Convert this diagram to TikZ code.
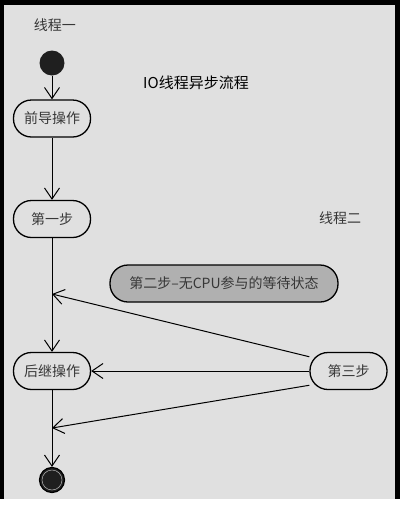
\documentclass[tikz,border=0pt]{standalone}
\usepackage{fontspec}
\newfontfamily\cjk{Noto Sans CJK SC}
\usetikzlibrary{arrows.meta}
\definecolor{hintergrund}{RGB}{224,224,224}
\definecolor{wartegrau}{RGB}{176,176,176}
\definecolor{schrift}{RGB}{55,55,55}
\begin{document}
\begin{tikzpicture}[x=1pt, y=-1pt,
        aktion/.style={draw, line width=1.3pt, rounded corners=18pt,
            minimum width=77pt, minimum height=37pt, inner sep=0pt,
            fill=hintergrund, text=schrift, font=\cjk\fontsize{14}{14}\selectfont},
        beschriftung/.style={text=schrift, font=\cjk\fontsize{14}{14}\selectfont},
        pfeil/.style={line width=1pt,
            -{Straight Barb[length=11pt, width=15pt, line width=1pt]}}]
        \useasboundingbox (0,0) rectangle (405,507);
        % Rahmen
        \fill[hintergrund] (0,0) rectangle (395,499);
        \fill[black] (0,0) rectangle (400,5);
        \fill[black] (0,0) rectangle (4,499);
        \fill[black] (395,0) rectangle (400,499);
        % Beschriftungen
        \node[beschriftung] (faden1) at (55,25) {线程一};
        \node[beschriftung] (faden2) at (340,218) {线程二};
        \node[font=\cjk\fontsize{15}{15}\selectfont] (titel) at (196,83) {IO线程异步流程};
        % Knoten
        \node[circle, fill=black!88, minimum size=25pt, inner sep=0pt] (start) at (52,63) {};
        \node[aktion] (vorher) at (52,118.5) {前导操作};
        \node[aktion] (schritt1) at (52,219) {第一步};
        \node[aktion, fill=wartegrau, minimum width=228pt] (schritt2) at (224,283.5) {第二步–无CPU参与的等待状态};
        \node[aktion] (nachher) at (52,371) {后继操作};
        \node[aktion] (schritt3) at (348.5,371) {第三步};
        \node[circle, draw, fill=black!88, line width=1.2pt, minimum size=25pt, inner sep=0pt] (ende) at (52,480) {};
        \draw[gray!60, line width=0.5pt] (ende) circle (10);
        \coordinate (oben) at (52,294);
        \coordinate (unten) at (52,428);
        % Pfeile
        \draw[pfeil] (start) -- (vorher);
        \draw[pfeil] (vorher) -- (schritt1);
        \draw[pfeil] (schritt1) -- (nachher);
        \draw[pfeil] (nachher) -- (ende);
        \draw[pfeil] (schritt3.160) -- (oben);
        \draw[pfeil] (schritt3) -- (nachher);
        \draw[pfeil] (schritt3.200) -- (unten);
\end{tikzpicture}
\end{document}
